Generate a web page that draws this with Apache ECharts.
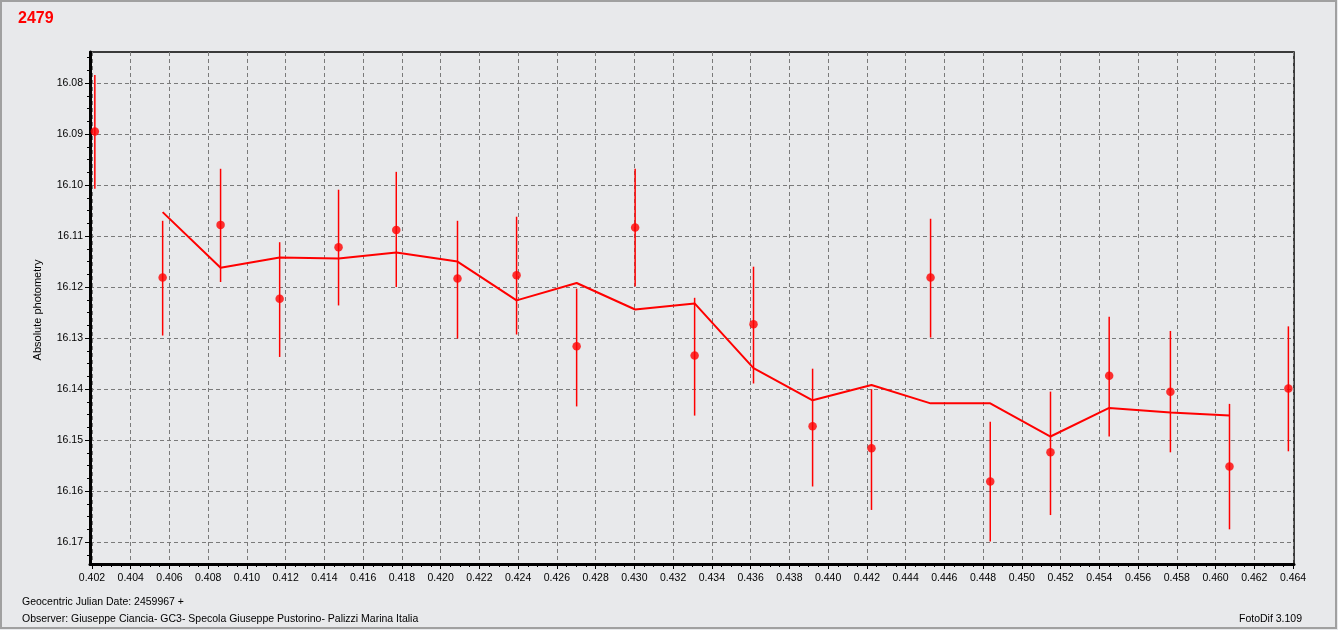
<!DOCTYPE html>
<html><head><meta charset="utf-8">
<script src="https://cdn.jsdelivr.net/npm/echarts@6/dist/echarts.min.js"></script>
<style>html,body{margin:0;padding:0;background:#e8e9eb}#c{width:1338px;height:630px}</style>
</head><body><div id="c"></div>
<script>
// ---- text ----
const titleText = '2479';
const yAxisName = 'Absolute photometry';
const footerLine1 = 'Geocentric Julian Date: 2459967 +';
const footerLine2 = 'Observer: Giuseppe Ciancia- GC3- Specola Giuseppe Pustorino- Palizzi Marina Italia';
const footerRight = 'FotoDif 3.109';

// ---- data (fractional JD, magnitude, error bar ends) ----
const xVals = [0.40215, 0.40565, 0.40864, 0.41169, 0.41473, 0.41771, 0.42087, 0.42392, 0.42702, 0.43004, 0.43311, 0.43615, 0.43920, 0.44224, 0.44529, 0.44837, 0.45148, 0.45451, 0.45767, 0.46072, 0.46376];
const magVals = [16.0895, 16.1181, 16.1078, 16.1223, 16.1122, 16.1088, 16.1183, 16.1177, 16.1316, 16.1083, 16.1334, 16.1273, 16.1473, 16.1516, 16.1181, 16.1581, 16.1524, 16.1374, 16.1405, 16.1552, 16.1399];
const errUpper = [16.0784, 16.1070, 16.0968, 16.1112, 16.1009, 16.0974, 16.1070, 16.1062, 16.1203, 16.0968, 16.1221, 16.1160, 16.1360, 16.1400, 16.1066, 16.1464, 16.1405, 16.1258, 16.1286, 16.1429, 16.1277];
const errLower = [16.1007, 16.1295, 16.1190, 16.1337, 16.1236, 16.1200, 16.1301, 16.1293, 16.1434, 16.1199, 16.1452, 16.1389, 16.1591, 16.1637, 16.1299, 16.1699, 16.1647, 16.1493, 16.1524, 16.1675, 16.1522];
// smoothed curve, read at points 2..20
const smoothVals = [16.1053, 16.1162, 16.1142, 16.1144, 16.1132, 16.1150, 16.1226, 16.1192, 16.1244, 16.1232, 16.1359, 16.1422, 16.1392, 16.1428, 16.1428, 16.1493, 16.1437, 16.1446, 16.1452];

// ---- ticks ----
const xTicks = [0.402, 0.404, 0.406, 0.408, 0.410, 0.412, 0.414, 0.416, 0.418, 0.420, 0.422, 0.424, 0.426, 0.428, 0.430, 0.432, 0.434, 0.436, 0.438, 0.440, 0.442, 0.444, 0.446, 0.448, 0.450, 0.452, 0.454, 0.456, 0.458, 0.460, 0.462, 0.464];
const yTicks = [16.08, 16.09, 16.10, 16.11, 16.12, 16.13, 16.14, 16.15, 16.16, 16.17];

const xMin = 0.4019, xMax = 0.46405;
const yMin = 16.0739, yMax = 16.1743;

const xMinor = [];
for (let i = 0; i <= 124; i++) { if (i % 4) xMinor.push(+(0.402 + i * 0.0005).toFixed(4)); }
const yMinor = [];
for (let i = 0; i <= 40; i++) { if (i % 4 !== 2) { const v = +(16.075 + i * 0.0025).toFixed(4); if (yTicks.indexOf(v) < 0 && v <= yMax) yMinor.push(v); } }

const FONT = '"Liberation Sans", Arial, sans-serif';
const RED = '#ff0000';

const pointData = xVals.map((x, i) => [x, magVals[i]]);
const errData = xVals.map((x, i) => [x, errUpper[i], errLower[i]]);
const smoothData = smoothVals.map((v, i) => [xVals[i + 1], v]);

const chart = echarts.init(document.getElementById('c'), null, {renderer: 'canvas'});
const gridLine = {show: true, lineStyle: {color: '#7a7a7a', type: [4, 3], width: 1}};

chart.setOption({
  animation: false,
  backgroundColor: '#e8e9eb',
  grid: {left: 90, right: 44, top: 52, bottom: 66, show: true, borderColor: '#000', borderWidth: 1.5, backgroundColor: 'transparent'},
  xAxis: [{
    type: 'value', min: xMin, max: xMax, position: 'bottom',
    axisLine: {show: true, lineStyle: {color: '#000', width: 3}},
    axisTick: {show: true, length: 5, customValues: xTicks, lineStyle: {color: '#000', width: 1}},
    axisLabel: {customValues: xTicks, formatter: v => v.toFixed(3), color: '#000', fontSize: 10.5, fontFamily: FONT, margin: 9},
    splitLine: Object.assign({}, gridLine)
  }, {
    type: 'value', min: xMin, max: xMax, position: 'bottom',
    axisLine: {show: false},
    axisTick: {show: true, length: 3, customValues: xMinor, lineStyle: {color: '#000', width: 1}},
    axisLabel: {show: false}, splitLine: {show: false}
  }],
  yAxis: [{
    type: 'value', min: yMin, max: yMax, inverse: true, position: 'left',
    axisLine: {show: true, lineStyle: {color: '#000', width: 3}},
    axisTick: {show: true, length: 5, customValues: yTicks, lineStyle: {color: '#000', width: 1}},
    axisLabel: {customValues: yTicks, formatter: v => v.toFixed(2), color: '#000', fontSize: 10.5, fontFamily: FONT, margin: 7},
    splitLine: Object.assign({}, gridLine)
  }, {
    type: 'value', min: yMin, max: yMax, inverse: true, position: 'left',
    axisLine: {show: false},
    axisTick: {show: true, length: 3, customValues: yMinor, lineStyle: {color: '#000', width: 1}},
    axisLabel: {show: false}, splitLine: {show: false}
  }],
  series: [{
    type: 'line', data: smoothData, symbol: 'none', lineStyle: {color: RED, width: 2}, z: 3
  }, {
    type: 'custom', data: errData, encode: {x: 0, y: [1, 2]}, z: 2,
    renderItem: (params, api) => {
      const p1 = api.coord([api.value(0), api.value(1)]);
      const p2 = api.coord([api.value(0), api.value(2)]);
      return {type: 'line', shape: {x1: p1[0], y1: p1[1], x2: p2[0], y2: p2[1]}, style: {stroke: RED, lineWidth: 1.5}};
    }
  }, {
    type: 'scatter', data: pointData, symbol: 'circle', symbolSize: 8.5, itemStyle: {color: RED}, z: 4
  }],
  graphic: [
    {type: 'rect', silent: true, shape: {x: 1, y: 1, width: 1335, height: 627}, style: {fill: null, stroke: '#a0a0a0', lineWidth: 2}},
    {type: 'text', silent: true, x: 18, y: 19, style: {text: titleText, fill: RED, font: 'bold 16px ' + FONT, textAlign: 'left', textVerticalAlign: 'middle'}},
    {type: 'text', silent: true, x: 38, y: 310, rotation: Math.PI / 2, style: {text: yAxisName, fill: '#000', font: '11px ' + FONT, textAlign: 'center', textVerticalAlign: 'middle'}},
    {type: 'text', silent: true, x: 22, y: 602, style: {text: footerLine1, fill: '#000', font: '10.5px ' + FONT, textAlign: 'left', textVerticalAlign: 'middle'}},
    {type: 'text', silent: true, x: 22, y: 619, style: {text: footerLine2, fill: '#000', font: '10.5px ' + FONT, textAlign: 'left', textVerticalAlign: 'middle'}},
    {type: 'text', silent: true, x: 1302, y: 619, style: {text: footerRight, fill: '#000', font: '10.5px ' + FONT, textAlign: 'right', textVerticalAlign: 'middle'}}
  ]
});
</script></body></html>
